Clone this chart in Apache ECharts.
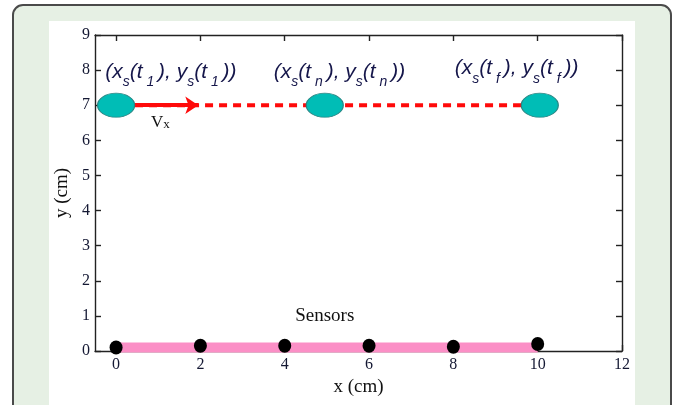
<!DOCTYPE html>
<html>
<head>
<meta charset="utf-8">
<script src="https://cdn.jsdelivr.net/npm/echarts@6/dist/echarts.min.js"></script>
<style>
html,body{margin:0;padding:0;background:#fff;}
#c{width:677px;height:405px;}
</style>
</head>
<body>
<div id="c"></div>
<script>
// ---- data ----
const xTicks = [0, 2, 4, 6, 8, 10, 12];
const yTicks = [0, 1, 2, 3, 4, 5, 6, 7, 8, 9];
const sensorX = [0, 2, 4, 6, 8, 10];
const sensorY = [0.1, 0.15, 0.15, 0.15, 0.12, 0.2];
const sensorBarX = [0, 10];
const sensorBarY = [0.1, 0.1];
const sourceX = [0, 4.95, 10.05];
const sourceY = [7, 7, 7];
const pathX = [0.45, 9.7];
const pathY = [7, 7];
const arrowX = [0.45, 1.95];
const arrowY = [7, 7];
const posLabels = ['1', 'n', 'f'];
const posLabelX = [1.3, 5.3, 9.5];
const posLabelY = [7.85, 7.85, 7.95];
const vxLabel = { x: 1.05, y: 6.5 };
const sensorsLabel = { text: 'Sensors', x: 4.95, y: 1.0 };

const serif = '"Liberation Serif", "DejaVu Serif", serif';
const sans = '"Liberation Sans", Arial, sans-serif';
const tickColor = '#141833';
const textNavy = '#15164a';
const axisLineStyle = { color: '#222222', width: 1.4 };

const chart = echarts.init(document.getElementById('c'), null, { renderer: 'canvas' });

const zip = (a, b) => a.map((v, i) => [v, b[i]]);

const labelData = posLabelX.map((x, i) => ({
  value: [x, posLabelY[i]],
  sub: posLabels[i]
}));

const option = {
  backgroundColor: '#ffffff',
  animation: false,
  graphic: [
    {
      type: 'rect', z: -10, silent: true,
      shape: { x: 13, y: 5, width: 658, height: 430, r: 10 },
      style: { fill: '#e6f0e4', stroke: '#4a4a4a', lineWidth: 2 }
    },
    {
      type: 'rect', z: -9, silent: true,
      shape: { x: 49, y: 21, width: 586, height: 420 },
      style: { fill: '#ffffff' }
    }
  ],
  grid: { left: 95, right: 55, top: 35, bottom: 54, containLabel: false },
  xAxis: [
    {
      type: 'value', min: -0.5, max: 12, position: 'bottom',
      splitLine: { show: false },
      axisLine: { show: true, onZero: false, lineStyle: axisLineStyle },
      axisTick: { show: true, inside: true, length: 6, customValues: xTicks, lineStyle: axisLineStyle },
      axisLabel: { customValues: xTicks, fontFamily: serif, fontSize: 16, color: tickColor, margin: 6 },
      name: 'x (cm)', nameLocation: 'middle', nameGap: 26,
      nameTextStyle: { fontFamily: serif, fontSize: 19, color: '#111111' }
    },
    {
      type: 'value', min: -0.5, max: 12, position: 'top',
      splitLine: { show: false },
      axisLine: { show: true, onZero: false, lineStyle: axisLineStyle },
      axisTick: { show: true, inside: true, length: 6, customValues: xTicks, lineStyle: axisLineStyle },
      axisLabel: { show: false }
    }
  ],
  yAxis: [
    {
      type: 'value', min: 0, max: 9, interval: 1, position: 'left',
      splitLine: { show: false },
      axisLine: { show: true, onZero: false, lineStyle: axisLineStyle },
      axisTick: { show: true, inside: true, length: 6, lineStyle: axisLineStyle },
      axisLabel: { fontFamily: serif, fontSize: 16, color: tickColor, margin: 5 },
      name: 'y (cm)', nameLocation: 'middle', nameGap: 22, nameRotate: 90,
      nameTextStyle: { fontFamily: serif, fontSize: 19, color: '#111111' }
    },
    {
      type: 'value', min: 0, max: 9, interval: 1, position: 'right',
      splitLine: { show: false },
      axisLine: { show: true, onZero: false, lineStyle: axisLineStyle },
      axisTick: { show: true, inside: true, length: 6, lineStyle: axisLineStyle },
      axisLabel: { show: false }
    }
  ],
  series: [
    {
      type: 'line', name: 'sensorBar', data: zip(sensorBarX, sensorBarY),
      symbol: 'none', clip: false, z: 2,
      lineStyle: { color: '#fb8fc6', width: 10, cap: 'butt', opacity: 1 }
    },
    {
      type: 'scatter', name: 'sensors', data: zip(sensorX, sensorY),
      symbol: 'circle', symbolSize: [13, 14], clip: false, z: 3,
      itemStyle: { color: '#000000', opacity: 1 }
    },
    {
      type: 'line', name: 'path', data: zip(pathX, pathY),
      symbol: 'none', z: 2,
      lineStyle: { color: '#ff0a0a', width: 4, type: [8, 6], cap: 'butt', opacity: 1 }
    },
    {
      type: 'lines', name: 'arrow', coordinateSystem: 'cartesian2d', z: 3,
      symbol: ['none', 'arrow'], symbolSize: 13,
      lineStyle: { color: '#ff0a0a', width: 4, type: 'solid', opacity: 1, curveness: 0 },
      data: [{ coords: zip(arrowX, arrowY) }]
    },
    {
      type: 'scatter', name: 'source', data: zip(sourceX, sourceY),
      symbol: 'circle', symbolSize: [37, 24], z: 4,
      itemStyle: { color: '#00bdb6', borderColor: '#2b8583', borderWidth: 1, opacity: 1 }
    },
    {
      type: 'scatter', name: 'posLabels', data: labelData,
      symbolSize: 0, z: 5, silent: true,
      itemStyle: { opacity: 1 },
      label: {
        show: true, position: 'inside', align: 'center', verticalAlign: 'middle',
        formatter: function (p) {
          const t = p.data.sub;
          return '{m|(x}{s|s}{m|(t}{s| ' + t + ' }{m|), y}{s|s}{m|(t}{s| ' + t + ' }{m|))}';
        },
        rich: {
          m: { fontFamily: sans, fontStyle: 'italic', fontSize: 21, color: textNavy, verticalAlign: 'top' },
          s: { fontFamily: sans, fontStyle: 'italic', fontSize: 14, color: textNavy, padding: [14, 0, 0, 0], verticalAlign: 'bottom' }
        }
      }
    },
    {
      type: 'scatter', name: 'vx', data: [[vxLabel.x, vxLabel.y]],
      symbolSize: 0, z: 5, silent: true,
      itemStyle: { opacity: 1 },
      label: {
        show: true, position: 'inside',
        formatter: '{v|V}{x|x}',
        rich: {
          v: { fontFamily: serif, fontSize: 17, color: '#111111' },
          x: { fontFamily: serif, fontSize: 13, color: '#111111', padding: [3, 0, 0, 0] }
        }
      }
    },
    {
      type: 'scatter', name: 'sensorsLabel', data: [[sensorsLabel.x, sensorsLabel.y]],
      symbolSize: 0, z: 5, silent: true,
      itemStyle: { opacity: 1 },
      label: {
        show: true, position: 'inside', formatter: sensorsLabel.text,
        fontFamily: serif, fontSize: 19, color: '#111111'
      }
    }
  ]
};
chart.setOption(option);
</script>
</body>
</html>
